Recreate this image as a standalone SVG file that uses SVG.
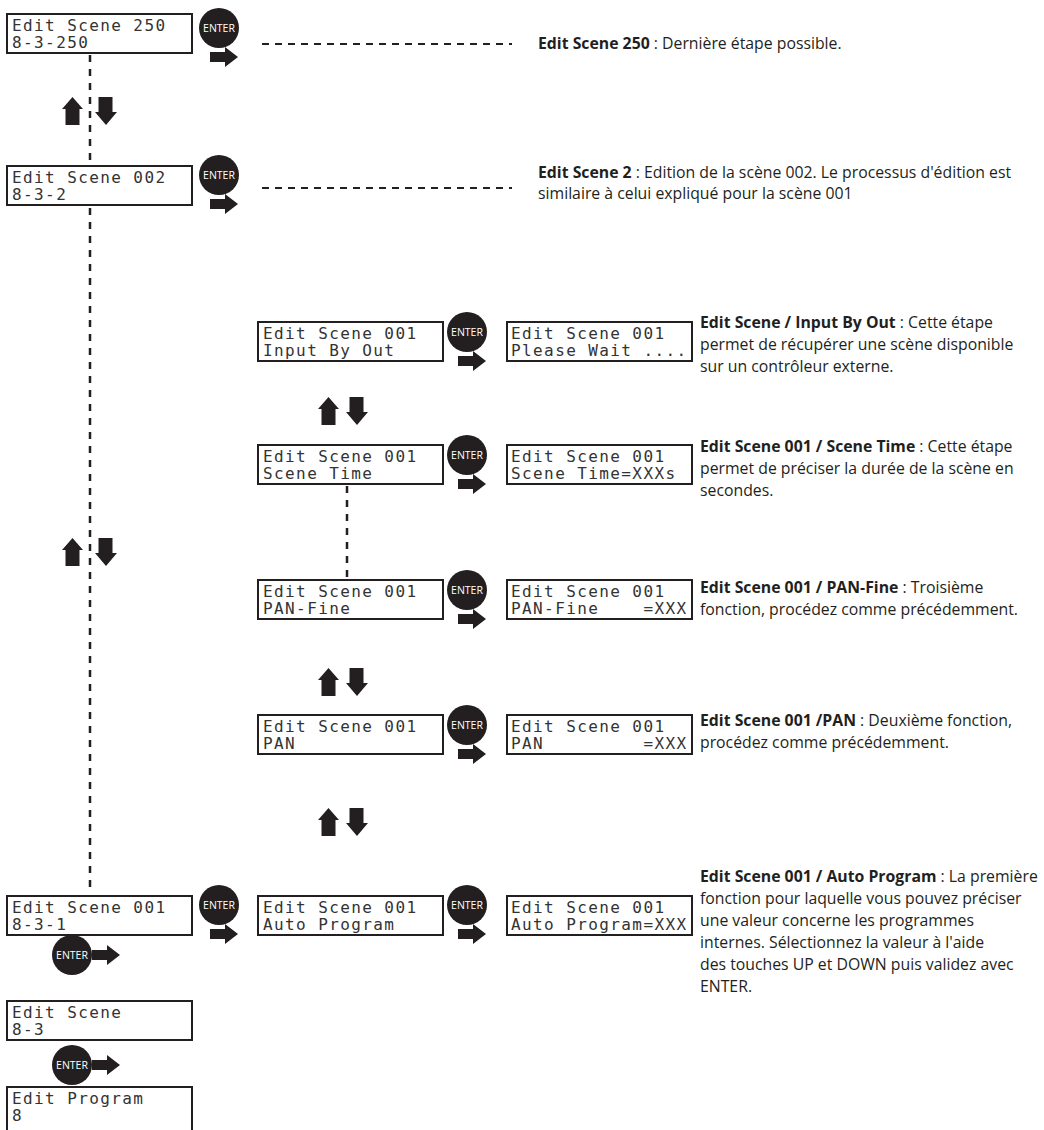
<svg xmlns="http://www.w3.org/2000/svg" xmlns:xlink="http://www.w3.org/1999/xlink" width="1044" height="1130" viewBox="0 0 1044 1130">
<style>
.box{fill:#fff;stroke:#231f20;stroke-width:2}
.lcd{font-family:"DejaVu Sans Mono","Liberation Mono",monospace;font-size:16px;letter-spacing:1.4px;fill:#333;white-space:pre}
.enter{font-family:"Open Sans","Liberation Sans",sans-serif;font-size:10.5px;fill:#fff;text-anchor:middle}
.desc{font-family:"Open Sans","Liberation Sans",sans-serif;font-size:15.8px;fill:#231f20}
.b{font-weight:bold}
.dashv{stroke:#231f20;stroke-width:2.5;stroke-dasharray:7 7;fill:none}
.dashh{stroke:#231f20;stroke-width:2;stroke-dasharray:7 6;fill:none}
.ar{fill:#231f20}
</style>
<defs>
<g id="enterBtn"><circle r="20" fill="#231f20"/><text class="enter" y="4">ENTER</text></g>
<polygon id="rarrow" class="ar" points="0,5 15,5 15,0 28,10 15,20 15,15 0,15"/>
<polygon id="uarrow" class="ar" points="10.5,0 21,12 17.5,12 17.5,28 3.5,28 3.5,12 0,12"/>
<polygon id="darrow" class="ar" points="3.5,0 17.5,0 17.5,15 22,15 11,28 0,15 3.5,15"/>
</defs>

<g id="connectors">
<line class="dashv" x1="90" y1="55" x2="90" y2="163"/>
<line class="dashv" x1="90" y1="208" x2="90" y2="893"/>
<line class="dashv" x1="347" y1="486" x2="347" y2="578"/>
<line class="dashh" x1="262" y1="44" x2="512" y2="44"/>
<line class="dashh" x1="262" y1="188" x2="512" y2="188"/>
<use xlink:href="#uarrow" x="62" y="97"/>
<use xlink:href="#darrow" x="95" y="97"/>
<use xlink:href="#uarrow" x="62" y="538"/>
<use xlink:href="#darrow" x="95" y="538"/>
<use xlink:href="#uarrow" x="318" y="397"/>
<use xlink:href="#darrow" x="346" y="397"/>
<use xlink:href="#uarrow" x="318" y="668"/>
<use xlink:href="#darrow" x="346" y="668"/>
<use xlink:href="#uarrow" x="318" y="808"/>
<use xlink:href="#darrow" x="346" y="808"/>
</g>

<g id="enter-buttons">
<use xlink:href="#enterBtn" x="219" y="28"/><use xlink:href="#rarrow" x="210" y="47"/>
<use xlink:href="#enterBtn" x="219" y="175"/><use xlink:href="#rarrow" x="210" y="194"/>
<use xlink:href="#enterBtn" x="467" y="332"/><use xlink:href="#rarrow" x="458" y="351"/>
<use xlink:href="#enterBtn" x="467" y="455"/><use xlink:href="#rarrow" x="458" y="474"/>
<use xlink:href="#enterBtn" x="467" y="590"/><use xlink:href="#rarrow" x="458" y="609"/>
<use xlink:href="#enterBtn" x="467" y="725"/><use xlink:href="#rarrow" x="458" y="744"/>
<use xlink:href="#enterBtn" x="219" y="905"/><use xlink:href="#rarrow" x="210" y="924"/>
<use xlink:href="#enterBtn" x="467" y="905"/><use xlink:href="#rarrow" x="458" y="924"/>
<use xlink:href="#enterBtn" x="72" y="955"/><use xlink:href="#rarrow" x="92" y="945"/>
<use xlink:href="#enterBtn" x="72" y="1065"/><use xlink:href="#rarrow" x="92" y="1055"/>
</g>

<g id="node-scene250"><rect class="box" x="7" y="14" width="185" height="39"/><text class="lcd" x="12" y="31">Edit Scene 250</text><text class="lcd" x="12" y="48">8-3-250</text></g>
<g id="node-scene002"><rect class="box" x="7" y="166" width="185" height="39"/><text class="lcd" x="12" y="183">Edit Scene 002</text><text class="lcd" x="12" y="200">8-3-2</text></g>
<g id="node-inputbyout"><rect class="box" x="258" y="322" width="185" height="39"/><text class="lcd" x="263" y="339">Edit Scene 001</text><text class="lcd" x="263" y="356">Input By Out</text></g>
<g id="node-pleasewait"><rect class="box" x="507" y="322" width="185" height="39"/><text class="lcd" x="511" y="339">Edit Scene 001</text><text class="lcd" x="511" y="356">Please Wait ....</text></g>
<g id="node-scenetime"><rect class="box" x="258" y="445" width="185" height="39"/><text class="lcd" x="263" y="462">Edit Scene 001</text><text class="lcd" x="263" y="479">Scene Time</text></g>
<g id="node-scenetimeval"><rect class="box" x="507" y="445" width="185" height="39"/><text class="lcd" x="511" y="462">Edit Scene 001</text><text class="lcd" x="511" y="479">Scene Time=XXXs</text></g>
<g id="node-panfine"><rect class="box" x="258" y="580" width="185" height="39"/><text class="lcd" x="263" y="597">Edit Scene 001</text><text class="lcd" x="263" y="614">PAN-Fine</text></g>
<g id="node-panfineval"><rect class="box" x="507" y="580" width="185" height="39"/><text class="lcd" x="511" y="597">Edit Scene 001</text><text class="lcd" x="511" y="614">PAN-Fine    =XXX</text></g>
<g id="node-pan"><rect class="box" x="258" y="715" width="185" height="39"/><text class="lcd" x="263" y="732">Edit Scene 001</text><text class="lcd" x="263" y="749">PAN</text></g>
<g id="node-panval"><rect class="box" x="507" y="715" width="185" height="39"/><text class="lcd" x="511" y="732">Edit Scene 001</text><text class="lcd" x="511" y="749">PAN         =XXX</text></g>
<g id="node-scene001"><rect class="box" x="7" y="896" width="185" height="39"/><text class="lcd" x="12" y="913">Edit Scene 001</text><text class="lcd" x="12" y="930">8-3-1</text></g>
<g id="node-autoprogram"><rect class="box" x="258" y="896" width="185" height="39"/><text class="lcd" x="263" y="913">Edit Scene 001</text><text class="lcd" x="263" y="930">Auto Program</text></g>
<g id="node-autoprogramval"><rect class="box" x="507" y="896" width="185" height="39"/><text class="lcd" x="511" y="913">Edit Scene 001</text><text class="lcd" x="511" y="930">Auto Program=XXX</text></g>
<g id="node-editscene"><rect class="box" x="7" y="1001" width="185" height="39"/><text class="lcd" x="12" y="1018">Edit Scene</text><text class="lcd" x="12" y="1035">8-3</text></g>
<g id="node-editprogram"><rect class="box" x="7" y="1087" width="185" height="50"/><text class="lcd" x="12" y="1104">Edit Program</text><text class="lcd" x="12" y="1121">8</text></g>

<g id="descriptions">
<text class="desc" x="538" y="49"><tspan class="b">Edit Scene 250</tspan> : Dernière étape possible.</text>
<text class="desc" x="538" y="178"><tspan class="b">Edit Scene 2</tspan> : Edition de la scène 002. Le processus d'édition est</text>
<text class="desc" x="538" y="199">similaire à celui expliqué pour la scène 001</text>
<text class="desc" x="700" y="328"><tspan class="b">Edit Scene / Input By Out</tspan> : Cette étape</text>
<text class="desc" x="700" y="350">permet de récupérer une scène disponible</text>
<text class="desc" x="700" y="372">sur un contrôleur externe.</text>
<text class="desc" x="700" y="452"><tspan class="b">Edit Scene 001 / Scene Time</tspan> : Cette étape</text>
<text class="desc" x="700" y="474">permet de préciser la durée de la scène en</text>
<text class="desc" x="700" y="496">secondes.</text>
<text class="desc" x="700" y="593"><tspan class="b">Edit Scene 001 / PAN-Fine</tspan> : Troisième</text>
<text class="desc" x="700" y="615">fonction, procédez comme précédemment.</text>
<text class="desc" x="700" y="726"><tspan class="b">Edit Scene 001 /PAN</tspan> : Deuxième fonction,</text>
<text class="desc" x="700" y="748">procédez comme précédemment.</text>
<text class="desc" x="700" y="882"><tspan class="b">Edit Scene 001 / Auto Program</tspan> : La première</text>
<text class="desc" x="700" y="904">fonction pour laquelle vous pouvez préciser</text>
<text class="desc" x="700" y="926">une valeur concerne les programmes</text>
<text class="desc" x="700" y="948">internes. Sélectionnez la valeur à l'aide</text>
<text class="desc" x="700" y="970">des touches UP et DOWN puis validez avec</text>
<text class="desc" x="700" y="992">ENTER.</text>
</g>
</svg>
